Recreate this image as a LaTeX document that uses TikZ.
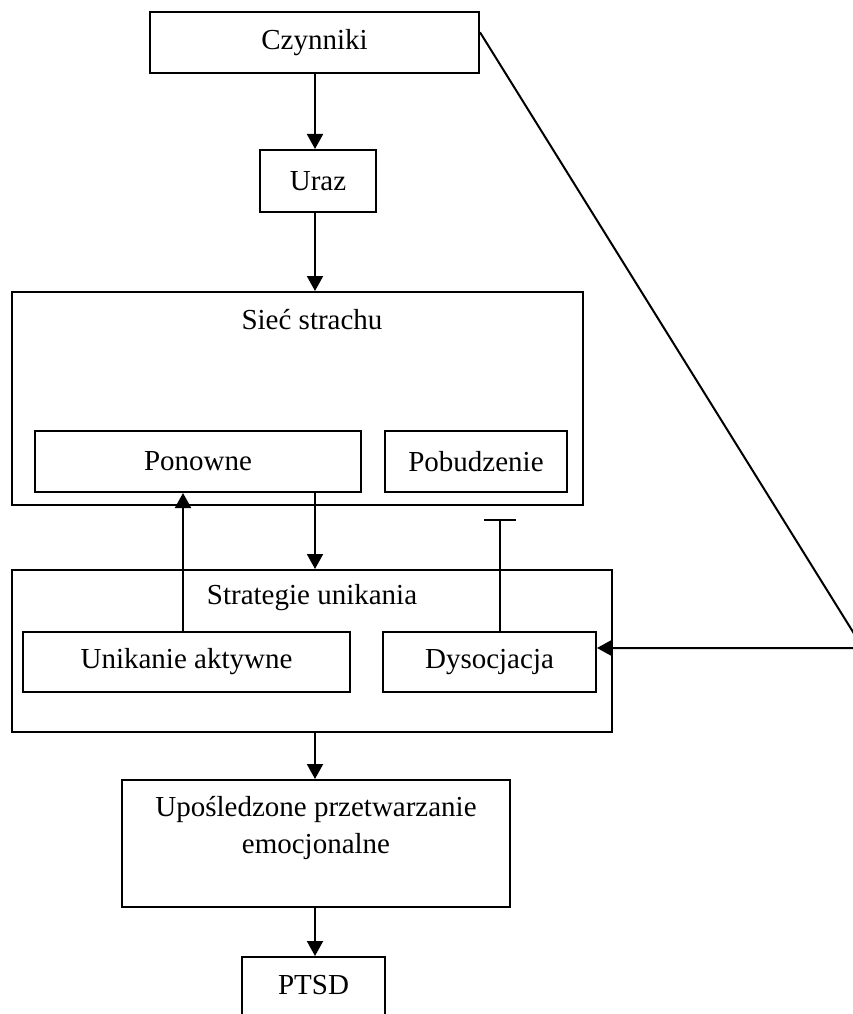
\documentclass[tikz,border=0pt]{standalone}
\usepackage{fontspec}
\setmainfont{Liberation Serif}
\usetikzlibrary{arrows.meta,calc}
\begin{document}
\begin{tikzpicture}[x=1pt,y=-1pt,
  every node/.style={font=\fontsize{29}{37}\selectfont},
  box/.style={draw,line width=2pt,rectangle,inner sep=0pt},
  txt/.style={inner sep=0pt,align=center},
  conn/.style={line width=2pt},
  arr/.style={conn,-{Triangle[length=15pt,width=16pt]}},
  tee/.style={conn,-{Bar[width=32pt,line width=2pt]}}]
\useasboundingbox (0,0) rectangle (853,1014);
\node[box,minimum width=329pt,minimum height=61pt] (czy) at (314.5,43) {Czynniki};
\node[box,minimum width=116pt,minimum height=62pt] (uraz) at (318,181) {Uraz};
\node[box,minimum width=571pt,minimum height=213pt] (siec) at (297.5,398.5) {};
\node[txt] (siect) at (312,320) {Sieć strachu};
\node[box,minimum width=326pt,minimum height=61pt] (pon) at (198,461.5) {Ponowne};
\node[box,minimum width=182pt,minimum height=61pt] (pob) at (476,461.5) {Pobudzenie};
\node[box,minimum width=600pt,minimum height=162pt] (strat) at (312,651) {};
\node[txt] (stratt) at (312,598) {Strategie unikania};
\node[box,minimum width=327pt,minimum height=60pt] (unik) at (186.5,662) {Unikanie aktywne};
\node[box,minimum width=213pt,minimum height=60pt] (dys) at (489.5,662) {Dysocjacja};
\node[box,minimum width=388pt,minimum height=127pt] (upos) at (316,843.5) {};
\node[txt] (upost) at (316,828) {Upośledzone przetwarzanie\\emocjonalne};
\node[box,minimum width=143pt,minimum height=70pt] (ptsd) at (313.5,992) {};
\node[txt] (ptsdt) at (313.5,985) {PTSD};
\coordinate (axis) at (315,0);
\coordinate (upx) at (183,0);
\coordinate (teept) at (500,519);
\coordinate (corner) at (863,648);
\draw[arr] (czy.south -| axis) -- (uraz.north -| axis);
\draw[arr] (uraz.south -| axis) -- (siec.north -| axis);
\draw[arr] (pon.south -| axis) -- (strat.north -| axis);
\draw[arr] (unik.north -| upx) -- (pon.south -| upx);
\draw[tee] (dys.north -| teept) -- (teept);
\draw[arr] (strat.south -| axis) -- (upos.north -| axis);
\draw[arr] (upos.south -| axis) -- (ptsd.north -| axis);
\draw[arr] ($(czy.north east)!0.33!(czy.south east)$) -- (corner) -- (dys.east |- corner);
\end{tikzpicture}
\end{document}
